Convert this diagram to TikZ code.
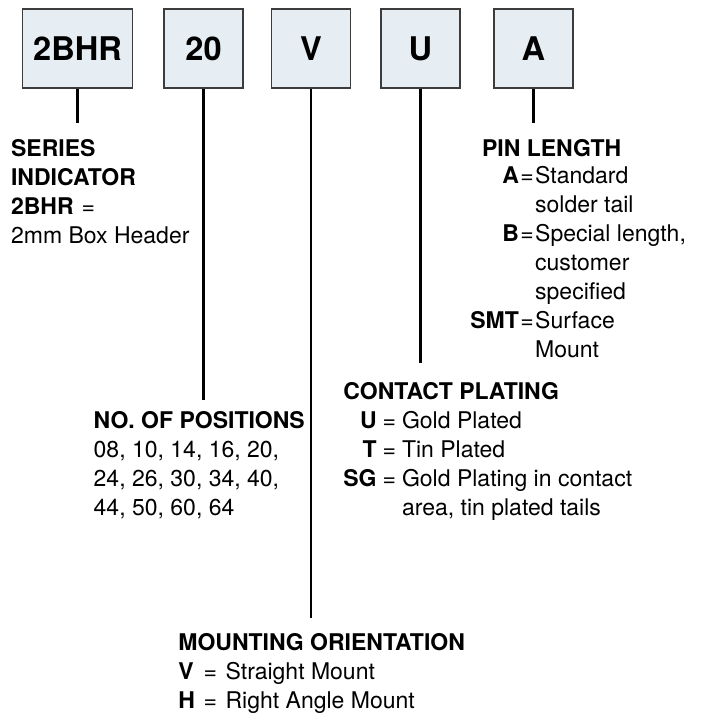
\documentclass[tikz,border=0pt]{standalone}
\usepackage{fontspec}
\setmainfont{TeX Gyre Heros}
\definecolor{boxfill}{HTML}{E6EEF4}
\definecolor{boxline}{HTML}{3C3C3C}
\tikzset{
  codebox/.style={draw=boxline, fill=boxfill, line width=0.6pt, minimum height=39.5pt,
    inner sep=0pt, font=\fontsize{16.3}{18}\selectfont\bfseries},
  lead/.style={line width=1.1pt},
  legend/.style={anchor=base west, inner sep=0pt, font=\fontsize{11.5}{14.5}\selectfont},
}
\begin{document}
\begin{tikzpicture}[x=0.5pt,y=-0.5pt]
\useasboundingbox (0,0) rectangle (702,713);

% part number boxes, each with its lead going down
\foreach \n/\cx/\w/\t/\e in {b1/77.5/55/2BHR/123, b2/203.5/39.5/20/400,
    b3/311/39.5/V/618, b4/420.5/39.5/U/363, b5/533.5/39.5/A/123} {
  \node[codebox, minimum width=\w*1pt] (\n) at (\cx,48.5) {\t};
  \coordinate (\n end) at (\n.south |- 0,\e);
  \draw[lead] (\n.south) -- (\n end);
}

% series indicator
\node[legend] (series) at (10.7,156) {\begin{tabular}[t]{@{}l@{}}
  \textbf{SERIES}\\
  \textbf{INDICATOR}\\
  \textbf{2BHR}\hspace{4pt}=\\
  2mm Box Header
\end{tabular}};

% pin length
\node[legend] (pin) at (481.7,156) {\textbf{PIN LENGTH}};
\node[legend] (pinkeys) at (470,183) {\begin{tabular}[t]{@{}r@{\hspace{0.7pt}}c@{\hspace{0.7pt}}l@{}}
  \textbf{A} & = & Standard\\
   & & solder tail\\
  \textbf{B} & = & Special length,\\
   & & customer\\
   & & specified\\
  \textbf{SMT} & = & Surface\\
   & & Mount
\end{tabular}};

% contact plating
\node[legend] (plating) at (343,399) {\begin{tabular}[t]{@{}r@{\hspace{3pt}}c@{\hspace{3pt}}l@{}}
  \multicolumn{3}{@{}l@{}}{\textbf{CONTACT PLATING}}\\
  \textbf{U} & = & Gold Plated\\
  \textbf{T} & = & Tin Plated\\
  \textbf{SG} & = & Gold Plating in contact\\
   & & area, tin plated tails
\end{tabular}};

% number of positions
\node[legend] (positions) at (93.3,428.3) {\begin{tabular}[t]{@{}l@{}}
  \textbf{NO. OF POSITIONS}\\
  08, 10, 14, 16, 20,\\
  24, 26, 30, 34, 40,\\
  44, 50, 60, 64
\end{tabular}};

% mounting orientation
\node[legend] (mounting) at (178,650) {\begin{tabular}[t]{@{}l@{\hspace{4.3pt}}c@{\hspace{4.3pt}}l@{}}
  \multicolumn{3}{@{}l@{}}{\textbf{MOUNTING ORIENTATION}}\\
  \textbf{V} & = & Straight Mount\\
  \textbf{H} & = & Right Angle Mount
\end{tabular}};
\end{tikzpicture}
\end{document}
